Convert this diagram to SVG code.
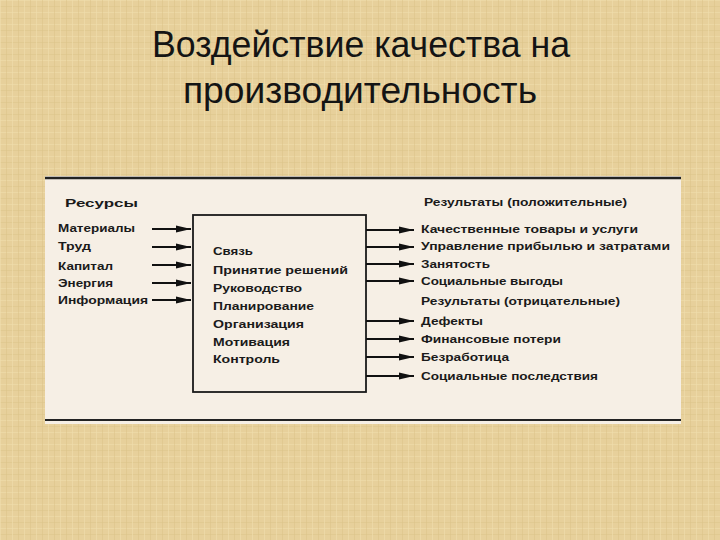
<svg xmlns="http://www.w3.org/2000/svg" width="720" height="540" viewBox="0 0 720 540">
<defs>
<pattern id="tex" width="12" height="12" patternUnits="userSpaceOnUse">
<rect width="12" height="12" fill="#e7d09b"/>
<rect x="0" y="0" width="12" height="1" fill="#efdcaa" opacity="0.7"/>
<rect x="0" y="6" width="12" height="1" fill="#dcc38a" opacity="0.5"/>
<rect x="0" y="0" width="1" height="12" fill="#f0ddae" opacity="0.6"/>
<rect x="6" y="0" width="1" height="12" fill="#dbc187" opacity="0.5"/>
</pattern>
<marker id="ah" markerWidth="15" markerHeight="8" refX="15" refY="4" orient="auto" markerUnits="userSpaceOnUse">
<path d="M0,0.5 L15,4 L0,7.5 Z" fill="#111"/>
</marker>
<style>
.t{font-family:"Liberation Sans",Arial,sans-serif;font-weight:bold;font-size:11.5px;fill:#1a1a1a}
.title{font-family:"Liberation Sans",Arial,sans-serif;font-size:37px;fill:#141414}
.ar{stroke:#111;stroke-width:2.2;fill:none;marker-end:url(#ah)}
</style>
</defs>
<rect width="720" height="540" fill="url(#tex)"/>
<g id="title">
<text class="title" x="361" y="57" text-anchor="middle" textLength="418" lengthAdjust="spacingAndGlyphs">Воздействие качества на</text>
<text class="title" x="360" y="103" text-anchor="middle" textLength="354" lengthAdjust="spacingAndGlyphs">производительность</text>
</g>
<g id="panel">
<rect x="45" y="176" width="636" height="248" fill="#f6efe5"/>
<line x1="45" y1="178" x2="681" y2="178" stroke="#222" stroke-width="2.5"/>
<line x1="45" y1="420" x2="681" y2="420" stroke="#222" stroke-width="2"/>
</g>
<g id="resources">
<text class="t" x="65" y="207" textLength="73" lengthAdjust="spacingAndGlyphs">Ресурсы</text>
<text class="t" x="58" y="232" textLength="77" lengthAdjust="spacingAndGlyphs">Материалы</text>
<text class="t" x="58" y="250" textLength="33" lengthAdjust="spacingAndGlyphs">Труд</text>
<text class="t" x="58" y="270" textLength="55" lengthAdjust="spacingAndGlyphs">Капитал</text>
<text class="t" x="58" y="287" textLength="55" lengthAdjust="spacingAndGlyphs">Энергия</text>
<text class="t" x="58" y="304" textLength="90" lengthAdjust="spacingAndGlyphs">Информация</text>
</g>
<g id="process">
<rect x="193" y="215" width="173" height="177" fill="none" stroke="#1a1a1a" stroke-width="1.8"/>
<text class="t" x="213" y="255" textLength="40" lengthAdjust="spacingAndGlyphs">Связь</text>
<text class="t" x="213" y="274" textLength="135" lengthAdjust="spacingAndGlyphs">Принятие решений</text>
<text class="t" x="213" y="292" textLength="89" lengthAdjust="spacingAndGlyphs">Руководство</text>
<text class="t" x="213" y="310" textLength="101" lengthAdjust="spacingAndGlyphs">Планирование</text>
<text class="t" x="213" y="328" textLength="91" lengthAdjust="spacingAndGlyphs">Организация</text>
<text class="t" x="213" y="346" textLength="77" lengthAdjust="spacingAndGlyphs">Мотивация</text>
<text class="t" x="213" y="363" textLength="67" lengthAdjust="spacingAndGlyphs">Контроль</text>
</g>
<g id="results-positive">
<text class="t" x="424" y="206" textLength="203" lengthAdjust="spacingAndGlyphs">Результаты (положительные)</text>
<text class="t" x="421" y="233" textLength="217" lengthAdjust="spacingAndGlyphs">Качественные товары и услуги</text>
<text class="t" x="421" y="250" textLength="249" lengthAdjust="spacingAndGlyphs">Управление прибылью и затратами</text>
<text class="t" x="421" y="268" textLength="69" lengthAdjust="spacingAndGlyphs">Занятость</text>
<text class="t" x="421" y="285" textLength="142" lengthAdjust="spacingAndGlyphs">Социальные выгоды</text>
</g>
<g id="results-negative">
<text class="t" x="421" y="305" textLength="199" lengthAdjust="spacingAndGlyphs">Результаты (отрицательные)</text>
<text class="t" x="421" y="325" textLength="62" lengthAdjust="spacingAndGlyphs">Дефекты</text>
<text class="t" x="421" y="343" textLength="140" lengthAdjust="spacingAndGlyphs">Финансовые потери</text>
<text class="t" x="421" y="361" textLength="88" lengthAdjust="spacingAndGlyphs">Безработица</text>
<text class="t" x="421" y="380" textLength="177" lengthAdjust="spacingAndGlyphs">Социальные последствия</text>
</g>
<g id="connectors">
<line class="ar" x1="152" y1="229" x2="191" y2="229"/>
<line class="ar" x1="152" y1="247" x2="191" y2="247"/>
<line class="ar" x1="152" y1="265" x2="191" y2="265"/>
<line class="ar" x1="152" y1="283" x2="191" y2="283"/>
<line class="ar" x1="152" y1="300" x2="191" y2="300"/>
<line class="ar" x1="366" y1="230" x2="414" y2="230"/>
<line class="ar" x1="366" y1="247" x2="414" y2="247"/>
<line class="ar" x1="366" y1="264" x2="414" y2="264"/>
<line class="ar" x1="366" y1="281" x2="414" y2="281"/>
<line class="ar" x1="366" y1="321" x2="414" y2="321"/>
<line class="ar" x1="366" y1="339" x2="414" y2="339"/>
<line class="ar" x1="366" y1="357" x2="414" y2="357"/>
<line class="ar" x1="366" y1="376" x2="414" y2="376"/>
</g>
</svg>
